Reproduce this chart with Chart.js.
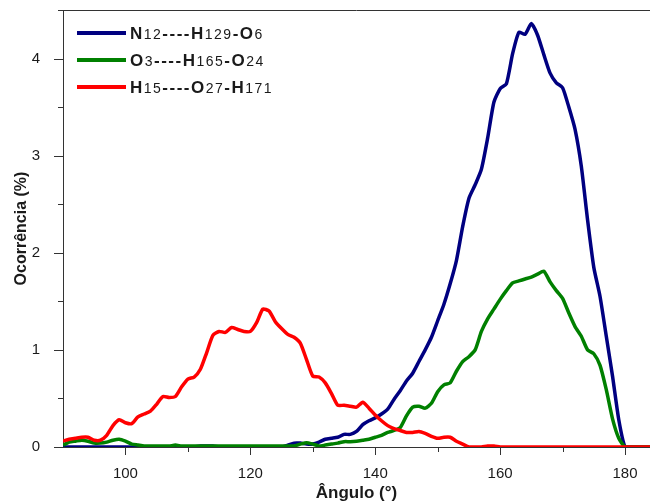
<!DOCTYPE html>
<html>
<head>
<meta charset="utf-8">
<script src="https://cdn.jsdelivr.net/npm/chart.js@4/dist/chart.umd.min.js"></script>
<style>
  html, body { margin: 0; padding: 0; background: #fff; }
  #wrap { width: 650px; height: 504px; }
</style>
</head>
<body>
<div id="wrap"><canvas id="chart" width="650" height="504"></canvas></div>
<script>
/* ── data ────────────────────────────────────────────── */
const angles = [];
for (let a = 90; a <= 184; a++) angles.push(a);

// N12----H129-O6
const blueVals = [
  0.00, 0.00, 0.00, 0.00, 0.00, 0.00, 0.00, 0.00, 0.00, 0.00,   // 90-99
  0.00, 0.00, 0.00, 0.00, 0.00, 0.00, 0.00, 0.00, 0.00, 0.00,   // 100-109
  0.00, 0.00, 0.01, 0.01, 0.01, 0.00, 0.00, 0.00, 0.00, 0.00,   // 110-119
  0.00, 0.00, 0.00, 0.00, 0.00, 0.00, 0.02, 0.04, 0.04, 0.03,   // 120-129
  0.03, 0.05, 0.08, 0.09, 0.10, 0.13, 0.13, 0.16, 0.23, 0.27,   // 130-139
  0.30, 0.34, 0.39, 0.49, 0.58, 0.68, 0.76, 0.88, 1.00, 1.13,   // 140-149
  1.30, 1.47, 1.68, 1.92, 2.27, 2.56, 2.70, 2.86, 3.18, 3.55,   // 150-159
  3.69, 3.74, 4.05, 4.27, 4.25, 4.36, 4.24, 4.04, 3.85, 3.75,   // 160-169
  3.70, 3.50, 3.27, 2.89, 2.34, 1.85, 1.55, 1.14, 0.73, 0.28,   // 170-179
  0.00, 0.00, 0.00, 0.00, 0.00                                  // 180-184
];

// O3----H165-O24
const greenVals = [
  0.02, 0.05, 0.06, 0.07, 0.06, 0.04, 0.04, 0.05, 0.07, 0.08,   // 90-99
  0.06, 0.03, 0.02, 0.01, 0.01, 0.01, 0.01, 0.01, 0.02, 0.01,   // 100-109
  0.01, 0.01, 0.01, 0.01, 0.01, 0.01, 0.01, 0.01, 0.01, 0.01,   // 110-119
  0.01, 0.01, 0.01, 0.01, 0.01, 0.01, 0.01, 0.01, 0.03, 0.045,  // 120-129
  0.03, 0.01, 0.02, 0.03, 0.04, 0.055, 0.055, 0.06, 0.07, 0.08, // 130-139
  0.10, 0.12, 0.15, 0.17, 0.20, 0.32, 0.41, 0.42, 0.40, 0.45,   // 140-149
  0.57, 0.64, 0.66, 0.78, 0.88, 0.93, 1.00, 1.19, 1.32, 1.42,   // 150-159
  1.52, 1.61, 1.69, 1.71, 1.73, 1.75, 1.78, 1.81, 1.70, 1.61,   // 160-169
  1.53, 1.38, 1.24, 1.14, 1.00, 0.96, 0.84, 0.59, 0.29, 0.09,   // 170-179
  0.00, 0.00, 0.00, 0.00, 0.00                                  // 180-184
];

// H15----O27-H171
const redVals = [
  0.06, 0.08, 0.09, 0.10, 0.10, 0.07, 0.07, 0.12, 0.22, 0.28,   // 90-99
  0.25, 0.24, 0.31, 0.34, 0.37, 0.44, 0.52, 0.51, 0.52, 0.62,   // 100-109
  0.70, 0.72, 0.80, 0.97, 1.15, 1.19, 1.18, 1.23, 1.21, 1.19,   // 110-119
  1.19, 1.28, 1.42, 1.40, 1.29, 1.22, 1.16, 1.13, 1.07, 0.90,   // 120-129
  0.73, 0.72, 0.66, 0.55, 0.43, 0.43, 0.42, 0.41, 0.46, 0.40,   // 130-139
  0.33, 0.27, 0.22, 0.19, 0.17, 0.15, 0.15, 0.16, 0.14, 0.11,   // 140-149
  0.09, 0.10, 0.10, 0.06, 0.03, 0.00, 0.00, 0.00, 0.01, 0.01,   // 150-159
  0.00, 0.00, 0.00, 0.00, 0.00, 0.00, 0.00, 0.00, 0.00, 0.00,   // 160-169
  0.00, 0.00, 0.00, 0.00, 0.00, 0.00, 0.00, 0.00, 0.00, 0.00,   // 170-179
  0.00, 0.00, 0.00, 0.00, 0.00                                  // 180-184
];

const xTicks = [100, 110, 120, 130, 140, 150, 160, 170, 180];
const yTicks = [0, 0.5, 1, 1.5, 2, 2.5, 3, 3.5, 4, 4.5];

// legend text pieces: [text, isSubscript]
const legendItems = [
  { color: '#000080', parts: [['N', 0], ['12', 1], ['----H', 0], ['129', 1], ['-O', 0], ['6', 1]] },
  { color: '#008000', parts: [['O', 0], ['3', 1], ['----H', 0], ['165', 1], ['-O', 0], ['24', 1]] },
  { color: '#ff0000', parts: [['H', 0], ['15', 1], ['----O', 0], ['27', 1], ['-H', 0], ['171', 1]] },
];

/* ── style ───────────────────────────────────────────── */
const AXIS_COLOR = '#333';
const TEXT_COLOR = '#1a1a1a';
const FONT = 'Arial, "Liberation Sans", sans-serif';

const toPoints = vals => angles.map((a, i) => ({ x: a, y: vals[i] }));

/* tick marks (major / minor) + top frame line */
const frameTicks = {
  id: 'frameTicks',
  afterDraw(chart) {
    const { ctx, chartArea: ca, scales: { x, y } } = chart;
    ctx.save();
    ctx.strokeStyle = AXIS_COLOR;
    ctx.lineWidth = 1;
    ctx.beginPath();
    ctx.moveTo(ca.left, ca.top + 0.5);
    ctx.lineTo(ca.right, ca.top + 0.5);
    xTicks.forEach(v => {
      const px = Math.round(x.getPixelForValue(v)) + 0.5;
      const len = v % 20 === 0 ? 8 : 5;
      ctx.moveTo(px, ca.bottom);
      ctx.lineTo(px, ca.bottom + len);
    });
    yTicks.forEach(v => {
      const py = Math.round(y.getPixelForValue(v)) + 0.5;
      const len = Number.isInteger(v) ? 9 : 5;
      ctx.moveTo(ca.left, py);
      ctx.lineTo(ca.left - len, py);
    });
    ctx.stroke();
    ctx.restore();
  }
};

/* legend with subscript numbers */
const subLegend = {
  id: 'subLegend',
  afterDraw(chart) {
    const ctx = chart.ctx;
    ctx.save();
    ctx.letterSpacing = '1.5px';
    legendItems.forEach((item, i) => {
      const ly = 33 + i * 27;
      ctx.strokeStyle = item.color;
      ctx.lineWidth = 4;
      ctx.beginPath();
      ctx.moveTo(77, ly);
      ctx.lineTo(126, ly);
      ctx.stroke();

      let tx = 130;
      ctx.fillStyle = TEXT_COLOR;
      ctx.textBaseline = 'alphabetic';
      item.parts.forEach(([txt, sub]) => {
        ctx.font = sub ? `14px ${FONT}` : `bold 17px ${FONT}`;
        ctx.fillText(txt, tx, ly + 6);
        tx += ctx.measureText(txt).width;
      });
    });
    ctx.restore();
  }
};

new Chart(document.getElementById('chart'), {
  type: 'line',
  data: {
    datasets: [
      { label: 'N12----H129-O6',  data: toPoints(blueVals),  borderColor: '#000080', order: 2 },
      { label: 'O3----H165-O24',  data: toPoints(greenVals), borderColor: '#008000', order: 1 },
      { label: 'H15----O27-H171', data: toPoints(redVals),   borderColor: '#ff0000', order: 0 },
    ]
  },
  options: {
    responsive: false,
    animation: false,
    layout: { padding: { top: 10, right: 0, bottom: 0, left: 0 } },
    elements: {
      line: { borderWidth: 3.5, tension: 0.2, fill: false },
      point: { radius: 0 }
    },
    plugins: {
      legend: { display: false },
      tooltip: { enabled: false }
    },
    scales: {
      x: {
        type: 'linear',
        min: 90,
        max: 184,
        afterBuildTicks: s => { s.ticks = xTicks.map(v => ({ value: v })); },
        afterFit: s => { s.height = 57; s.paddingLeft = 0; s.paddingRight = 0; },
        grid: { display: false },
        border: { display: true, color: AXIS_COLOR, width: 1 },
        ticks: {
          autoSkip: false,
          maxRotation: 0,
          padding: 10,
          color: TEXT_COLOR,
          font: { family: FONT, size: 15 },
          callback: v => (v % 20 === 0 ? v : '')
        },
        title: {
          display: true,
          text: 'Ângulo (°)',
          color: TEXT_COLOR,
          font: { family: FONT, size: 17, weight: 'bold' },
          padding: { top: 0, bottom: 0 }
        }
      },
      y: {
        min: 0,
        max: 4.5,
        afterBuildTicks: s => { s.ticks = yTicks.map(v => ({ value: v })); },
        afterFit: s => { s.width = 63; s.paddingTop = 0; s.paddingBottom = 0; },
        grid: { display: false },
        border: { display: true, color: AXIS_COLOR, width: 1 },
        ticks: {
          autoSkip: false,
          padding: 15,
          color: TEXT_COLOR,
          font: { family: FONT, size: 15 },
          callback: v => (Number.isInteger(v) ? v : '')
        },
        title: {
          display: true,
          text: 'Ocorrência (%)',
          color: TEXT_COLOR,
          font: { family: FONT, size: 16, weight: 'bold' },
          padding: { top: 12, bottom: 0 }
        }
      }
    }
  },
  plugins: [frameTicks, subLegend]
});
</script>
</body>
</html>
